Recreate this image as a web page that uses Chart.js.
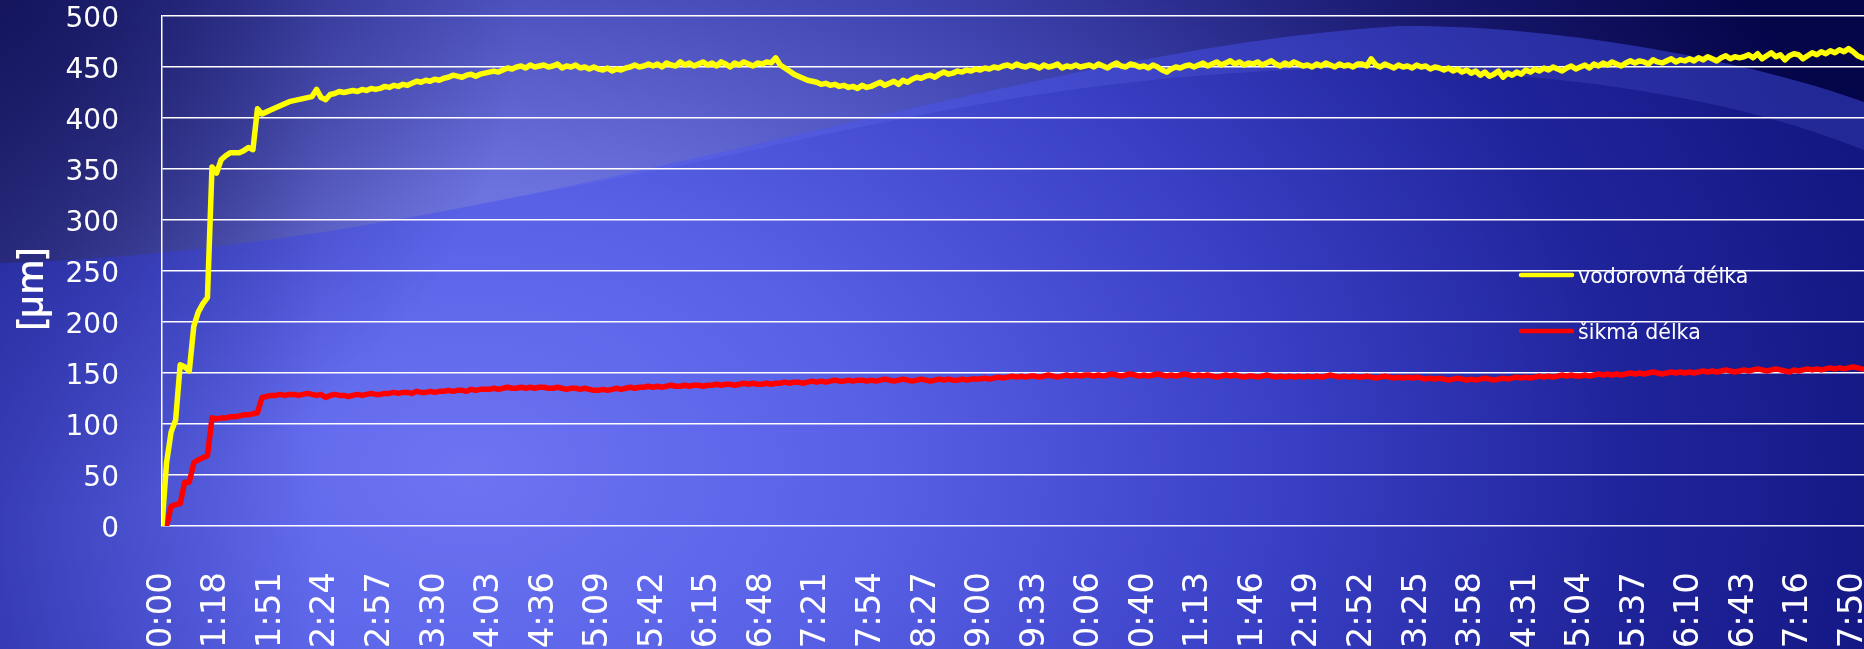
<!DOCTYPE html>
<html>
<head>
<meta charset="utf-8">
<script src="https://cdn.jsdelivr.net/npm/chart.js@4.4.1/dist/chart.umd.min.js"></script>
<style>
  html, body { margin: 0; padding: 0; background: #06064c; overflow: hidden; }
  #wrap { width: 1864px; height: 649px; position: relative; }
</style>
</head>
<body>
<div id="wrap"><canvas id="c" width="1864" height="649"></canvas></div>
<script>
// Time labels shown under the axis (one every 12 samples)
const tickLabels = ['0:00','1:18','1:51','2:24','2:57','3:30','4:03','4:36','5:09','5:42','6:15','6:48',
  '7:21','7:54','8:27','9:00','9:33','10:06','10:40','11:13','11:46','12:19','12:52','13:25','13:58',
  '14:31','15:04','15:37','16:10','16:43','17:16','17:50'];
const samplesPerTick = 12;
const yTicks = [0, 50, 100, 150, 200, 250, 300, 350, 400, 450, 500];
const seriesNames = ['vodorovná délka', 'šikmá délka'];
const seriesColors = ['#ffff00', '#ff0000'];
const axisTitle = '[µm]';

// vodorovná délka [µm]
const yellowVals = [
  0, 62, 92, 104, 158, 156, 152, 196, 210, 218, 224, 352,
  346, 359, 363, 366, 366, 366, 368, 371, 369, 409, 404, 406,
  408, 410, 412, 414, 416, 417, 418, 419, 420, 421, 428, 420,
  418, 423, 424, 426, 425, 426, 427, 426, 428, 427, 429, 428,
  429, 431, 430, 432, 431, 433, 432, 434, 436, 435, 437, 436,
  438, 437, 439, 440, 442, 441, 440, 442, 443, 441, 443, 444,
  445, 446, 445, 447, 449, 448, 450, 451, 449, 452, 450, 451,
  452, 450, 451, 453, 449, 451, 450, 452, 449, 450, 448, 450,
  448, 447, 449, 446, 448, 447, 449, 450, 452, 450, 451, 453,
  451, 453, 450, 454, 452, 451, 455, 452, 454, 451, 453, 455,
  452, 454, 451, 455, 453, 450, 454, 452, 455, 453, 451, 454,
  453, 455, 454, 459, 452, 449, 446, 443, 441, 439, 437, 436,
  435, 433, 434, 432, 433, 431, 432, 430, 431, 429, 432, 430,
  431, 433, 435, 432, 434, 436, 433, 437, 435, 438, 440, 439,
  441, 442, 440, 443, 445, 443, 444, 446, 445, 447, 446, 448,
  447, 449, 448, 450, 449, 451, 452, 450, 453, 451, 450, 452,
  451, 449, 452, 450, 451, 453, 449, 451, 450, 452, 450, 451,
  452, 450, 453, 451, 449, 452, 454, 451, 450, 453, 452, 450,
  451, 449, 452, 450, 447, 445, 448, 450, 449, 451, 452, 450,
  452, 454, 451, 453, 455, 452, 454, 456, 453, 455, 452, 454,
  453, 455, 452, 454, 456, 453, 451, 454, 452, 455, 453, 451,
  452, 450, 453, 451, 454, 452, 450, 453, 451, 452, 450, 453,
  453, 451, 458, 452, 450, 453, 451, 449, 452, 450, 451, 449,
  452, 450, 451, 448, 450, 449, 447, 449, 446, 448, 445, 447,
  444, 446, 442, 445, 441, 443, 446, 440, 444, 442, 445, 443,
  447, 445, 448, 446, 449, 447, 450, 448, 446, 449, 451, 448,
  450, 452, 449, 453, 451, 454, 452, 455, 453, 451, 454, 456,
  454, 456, 455, 453, 457, 455, 454, 456, 458, 455, 457, 456,
  458, 456, 459, 457, 460, 458, 456, 459, 461, 458, 460, 459,
  460, 462, 459, 463, 458, 461, 464, 460, 462, 457, 461, 463,
  462, 458, 461, 464, 462, 465, 463, 466, 464, 467, 465, 468,
  465, 461, 459
];

// šikmá délka [µm]
const redVals = [
  null, 0, 19, 21, 22, 43, 43, 62, 65, 67, 69, 106,
  105, 106, 106, 107, 107, 108, 109, 109, 110, 111, 126, 127,
  128, 128, 129, 128, 129, 129, 128, 129, 130, 129, 128, 129,
  126, 128, 129, 128, 128, 127, 128, 129, 128, 129, 130, 129,
  129, 130, 130, 131, 130, 131, 131, 130, 132, 131, 131, 132,
  131, 132, 132, 133, 132, 133, 133, 132, 134, 133, 134, 134,
  134, 135, 134, 135, 136, 135, 135, 136, 135, 136, 135, 136,
  136, 135, 135, 136, 135, 134, 135, 135, 134, 135, 134, 133,
  133, 134, 133, 134, 135, 134, 135, 136, 135, 136, 136, 137,
  136, 137, 136, 137, 138, 137, 137, 138, 137, 138, 138, 137,
  138, 138, 139, 138, 139, 139, 138, 139, 140, 139, 140, 139,
  139, 140, 139, 140, 140, 141, 140, 141, 141, 140, 141, 142,
  141, 142, 141, 142, 143, 142, 142, 143, 142, 143, 143, 142,
  143, 142, 143, 144, 143, 142, 143, 144, 143, 142, 143, 144,
  143, 142, 143, 144, 143, 144, 143, 143, 144, 143, 144, 144,
  144, 145, 144, 145, 146, 145, 146, 147, 146, 147, 146, 147,
  147, 146, 147, 148, 147, 146, 147, 148, 147, 148, 147, 148,
  148, 147, 148, 147, 148, 149, 148, 147, 148, 149, 148, 147,
  148, 147, 148, 149, 148, 147, 148, 147, 148, 149, 148, 147,
  148, 147, 148, 147, 146, 147, 148, 147, 148, 147, 146, 147,
  147, 146, 147, 148, 147, 146, 147, 146, 147, 146, 147, 146,
  147, 146, 147, 146, 147, 148, 147, 146, 147, 146, 147, 146,
  146, 147, 146, 145, 146, 147, 146, 145, 146, 145, 146, 145,
  146, 145, 144, 145, 144, 145, 144, 143, 144, 145, 144, 143,
  144, 143, 144, 145, 144, 143, 144, 145, 144, 145, 146, 145,
  146, 145, 146, 147, 146, 147, 146, 147, 148, 147, 148, 147,
  147, 148, 147, 148, 149, 148, 149, 148, 149, 148, 149, 150,
  149, 150, 149, 150, 151, 150, 149, 150, 151, 150, 151, 150,
  151, 150, 151, 152, 151, 152, 151, 152, 153, 152, 151, 152,
  153, 152, 153, 154, 153, 152, 153, 154, 153, 152, 151, 153,
  152, 153, 154, 153, 154, 153, 154, 155, 154, 155, 154, 155,
  156, 155, 154
];

const toPoints = vals => vals.map((y, i) => ({ x: i / samplesPerTick, y }));

// upper arc of the swoosh
function arcA(ctx) {
  ctx.moveTo(0, 263);
  ctx.bezierCurveTo(500, 250, 1000, 50, 1400, 26);
  ctx.bezierCurveTo(1550, 24, 1750, 60, 1864, 102);
}

// Slide-style backdrop: stretched radial glow, dark corner, swoosh bands
const backdrop = {
  id: 'backdrop',
  beforeDraw(chart) {
    const { ctx, width: W, height: H } = chart;
    ctx.save();
    ctx.fillStyle = '#05054a';
    ctx.fillRect(0, 0, W, H);

    ctx.save();
    const cx = 470, cy = 470, sx = 1.45;
    ctx.translate(cx, cy);
    ctx.scale(sx, 1);
    const g = ctx.createRadialGradient(0, 0, 0, 0, 0, 1000);
    g.addColorStop(0, '#8a90f2');
    g.addColorStop(0.28, '#6c72de');
    g.addColorStop(0.55, '#4044b0');
    g.addColorStop(0.8, '#18186e');
    g.addColorStop(1, '#05054a');
    ctx.fillStyle = g;
    ctx.fillRect(-cx / sx, -cy, W / sx, H);
    ctx.restore();

    // darker top-left corner and left edge
    const c1 = ctx.createRadialGradient(0, 0, 0, 0, 0, 520);
    c1.addColorStop(0, 'rgba(12,12,80,0.8)');
    c1.addColorStop(1, 'rgba(12,12,80,0)');
    ctx.fillStyle = c1;
    ctx.fillRect(0, 0, W, H);
    const c2 = ctx.createLinearGradient(0, 0, 320, 0);
    c2.addColorStop(0, 'rgba(20,20,90,0.5)');
    c2.addColorStop(1, 'rgba(20,20,90,0)');
    ctx.fillStyle = c2;
    ctx.fillRect(0, 0, W, H);

    // region below the upper arc: saturated blue
    ctx.beginPath();
    arcA(ctx);
    ctx.lineTo(W, H);
    ctx.lineTo(0, H);
    ctx.closePath();
    ctx.fillStyle = 'rgba(50,60,245,0.33)';
    ctx.fill();

    // lighter band between the upper arc and a lower arc (right half)
    ctx.save();
    ctx.beginPath();
    arcA(ctx);
    ctx.lineTo(W, H);
    ctx.lineTo(0, H);
    ctx.closePath();
    ctx.clip();
    ctx.beginPath();
    ctx.moveTo(0, 0);
    ctx.lineTo(0, 160);
    ctx.lineTo(500, 200);
    ctx.bezierCurveTo(800, 150, 1000, 75, 1350, 68);
    ctx.bezierCurveTo(1600, 72, 1750, 105, 1864, 150);
    ctx.lineTo(1864, 0);
    ctx.closePath();
    ctx.fillStyle = 'rgba(120,130,255,0.16)';
    ctx.fill();
    ctx.restore();
    ctx.restore();
  },
  afterDraw(chart) {
    const { ctx } = chart;
    ctx.save();
    // axis title
    ctx.translate(32, 289);
    ctx.rotate(-Math.PI / 2);
    ctx.fillStyle = '#ffffff';
    ctx.font = '600 37px "Open Sans"';
    ctx.textAlign = 'center';
    ctx.textBaseline = 'middle';
    ctx.fillText(axisTitle, 0, 0);
    ctx.restore();

    // legend inside plot area
    ctx.save();
    ctx.font = '20.5px "DejaVu Sans"';
    ctx.textBaseline = 'alphabetic';
    chart.data.datasets.forEach((ds, i) => {
      const y = 275 + i * 56;
      ctx.strokeStyle = ds.borderColor;
      ctx.lineWidth = 4.5;
      ctx.lineCap = 'round';
      ctx.beginPath();
      ctx.moveTo(1521, y);
      ctx.lineTo(1572, y);
      ctx.stroke();
      ctx.fillStyle = '#ffffff';
      ctx.fillText(ds.label, 1578, y + 8);
    });
    ctx.restore();
  }
};

new Chart(document.getElementById('c'), {
  type: 'line',
  data: {
    datasets: [
      { label: seriesNames[0], data: toPoints(yellowVals), borderColor: seriesColors[0] },
      { label: seriesNames[1], data: toPoints(redVals), borderColor: seriesColors[1] }
    ]
  },
  options: {
    responsive: false,
    devicePixelRatio: 1,
    animation: false,
    elements: {
      line: { borderWidth: 5.5, tension: 0, borderJoinStyle: 'round', borderCapStyle: 'round', fill: false },
      point: { radius: 0 }
    },
    layout: { padding: { top: 16, left: 0, right: 0, bottom: 0 } },
    plugins: { legend: { display: false }, tooltip: { enabled: false } },
    scales: {
      x: {
        type: 'linear',
        min: 0,
        max: 31.2,
        grid: { display: false, drawTicks: false },
        border: { display: false },
        afterBuildTicks: s => { s.ticks = tickLabels.map((_, i) => ({ value: i })); },
        ticks: {
          autoSkip: false,
          minRotation: 90,
          maxRotation: 90,
          padding: 46,
          color: '#ffffff',
          font: { family: 'DejaVu Sans', size: 34 },
          callback: v => tickLabels[v] ?? ''
        },
        afterFit: s => { s.height = 123; s.paddingLeft = 0; s.paddingRight = 0; }
      },
      y: {
        min: 0,
        max: 500,
        afterBuildTicks: s => { s.ticks = yTicks.map(v => ({ value: v })); },
        grid: { color: '#ffffff', lineWidth: 1.5, drawTicks: false },
        border: { display: true, color: '#ffffff', width: 1.5 },
        ticks: {
          color: '#ffffff',
          font: { family: 'DejaVu Sans', size: 28 },
          padding: 43,
          labelOffset: 4
        },
        afterFit: s => { s.width = 162; s.paddingTop = 0; s.paddingBottom = 0; }
      }
    }
  },
  plugins: [backdrop]
});
</script>
</body>
</html>
